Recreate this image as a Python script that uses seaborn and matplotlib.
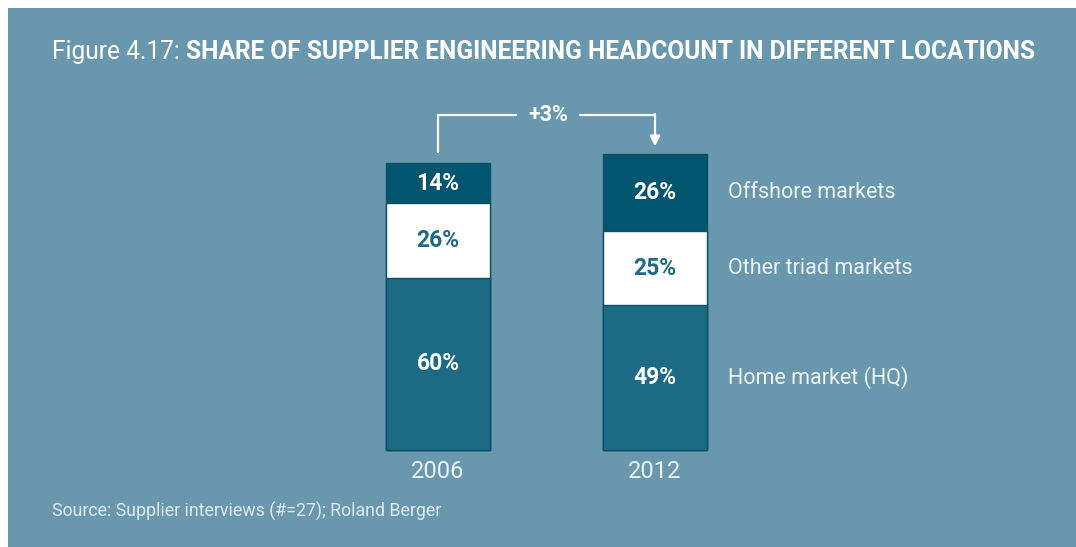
import matplotlib
matplotlib.use("Agg")
import matplotlib.pyplot as plt
import seaborn as sns
import numpy as np
import pandas as pd
from matplotlib.patches import Rectangle

# ---- data ----
years = ["2006", "2012"]
segments = ["Home market (HQ)", "Other triad markets", "Offshore markets"]
home = [60, 49]
triad = [26, 25]
offshore = [14, 26]
totals = [100, 103]          # relative total headcount (2012 = +3%)
growth_label = "+3%"

BG = "#6897ae"
DARK = "#02556f"
MID = "#1c6a84"
WHITE = "#ffffff"
TXT = "#eef3f6"
EDGE = "#0e4f66"

sns.set_theme(style="white")
FAM = ["Roboto", "DejaVu Sans"]
plt.rcParams["font.family"] = FAM

W, H = 1076, 547
fig = plt.figure(figsize=(W / 100, H / 100), dpi=100)
fig.patch.set_facecolor("white")
fig.patches.append(Rectangle((8 / W, 0), 1, 1 - 8 / H, transform=fig.transFigure,
                             facecolor=BG, edgecolor="none", zorder=-10))

ax = fig.add_axes([0, 0, 1, 1])
ax.set_facecolor("none")
ax.set_zorder(2)

# cumulative heights (scaled by total)
h_home = [h * t / 100 for h, t in zip(home, totals)]
h_triad = [(h + tr) * t / 100 for h, tr, t in zip(home, triad, totals)]
h_all = [(h + tr + o) * t / 100 for h, tr, o, t in zip(home, triad, offshore, totals)]

df = pd.DataFrame({"year": years, "all": h_all, "triad": h_triad, "home": h_home})
bw = 104 / 217
for col, colr in [("all", DARK), ("triad", WHITE), ("home", MID)]:
    sns.barplot(data=df, x="year", y=col, color=colr, width=bw, saturation=1,
                edgecolor=EDGE, linewidth=1.0, ax=ax)

# axes scaling: px mapping
px_per_unit = 287 / 100
ax.set_xlim(-438 / 217, 1 + (1076 - 655) / 217)
ax.set_ylim(-97 / px_per_unit, 450 / px_per_unit)
ax.axis("off")

# segment labels
for i in range(2):
    c_home = h_home[i] / 2
    c_triad = (h_home[i] + h_triad[i]) / 2
    c_off = (h_triad[i] + h_all[i]) / 2
    ax.text(i, c_home, f"{home[i]}%", color=WHITE, ha="center", va="center",
            fontsize=16.5, fontweight="bold")
    ax.text(i, c_triad, f"{triad[i]}%", color=MID, ha="center", va="center",
            fontsize=16.5, fontweight="bold")
    ax.text(i, c_off, f"{offshore[i]}%", color=WHITE, ha="center", va="center",
            fontsize=16.5, fontweight="bold")
    ax.text(i, -21 / px_per_unit, years[i], color=TXT, ha="center", va="center",
            fontsize=17)

# legend labels to the right of 2012 bar
lx = 1 + (728 - 655) / 217
ax.text(lx, (h_triad[1] + h_all[1]) / 2, segments[2], color=TXT, ha="left", va="center", fontsize=15.5)
ax.text(lx, (h_home[1] + h_triad[1]) / 2, segments[1], color=TXT, ha="left", va="center", fontsize=15.5)
ax.text(lx, h_home[1] / 2, segments[0], color=TXT, ha="left", va="center", fontsize=15.5)

# growth bracket
ybr = (450 - 115) / px_per_unit
y0 = h_all[0] + 11 / px_per_unit
y1 = h_all[1] + 8 / px_per_unit
xm = 0.5 + (548 - 546.5) / 217
gap = 32 / 217
ax.plot([0, 0, xm - gap], [y0, ybr, ybr], color=WHITE, lw=1.6, solid_joinstyle="miter")
ax.plot([xm + gap, 1], [ybr, ybr], color=WHITE, lw=1.6)
ax.annotate("", xy=(1, y1), xytext=(1, ybr + 0.3),
            arrowprops=dict(arrowstyle="-|>,head_length=0.5,head_width=0.25",
                            color=WHITE, lw=1.6, shrinkA=0, shrinkB=0))
ax.text(xm, ybr, growth_label, color=WHITE, ha="center", va="center",
        fontsize=15.5, fontweight="bold")

# title (auto-fit to reference width)
title_a = "Figure 4.17: "
title_b = "SHARE OF SUPPLIER ENGINEERING HEADCOUNT IN DIFFERENT LOCATIONS"
fs = 20
t1 = fig.text(52 / W, 1 - 52 / H, title_a, color=WHITE, fontsize=fs, ha="left", va="center")
t2 = fig.text(0.5, 1 - 52 / H, title_b, color=WHITE, fontsize=fs, fontweight="bold",
              ha="left", va="center")
fig.canvas.draw()
r = fig.canvas.get_renderer()
wtot = t1.get_window_extent(r).width + t2.get_window_extent(r).width
fs = fs * 983 / wtot
t1.set_fontsize(fs)
t2.set_fontsize(fs)
fig.canvas.draw()
bb = t1.get_window_extent(r)
t2.set_x(bb.x1 / W)

fig.text(52 / W, 1 - 511 / H, "Source: Supplier interviews (#=27); Roland Berger",
         color="#dfe9ee", fontsize=12.8, ha="left", va="center")

fig.savefig("out.png", dpi=100, facecolor=fig.get_facecolor())
